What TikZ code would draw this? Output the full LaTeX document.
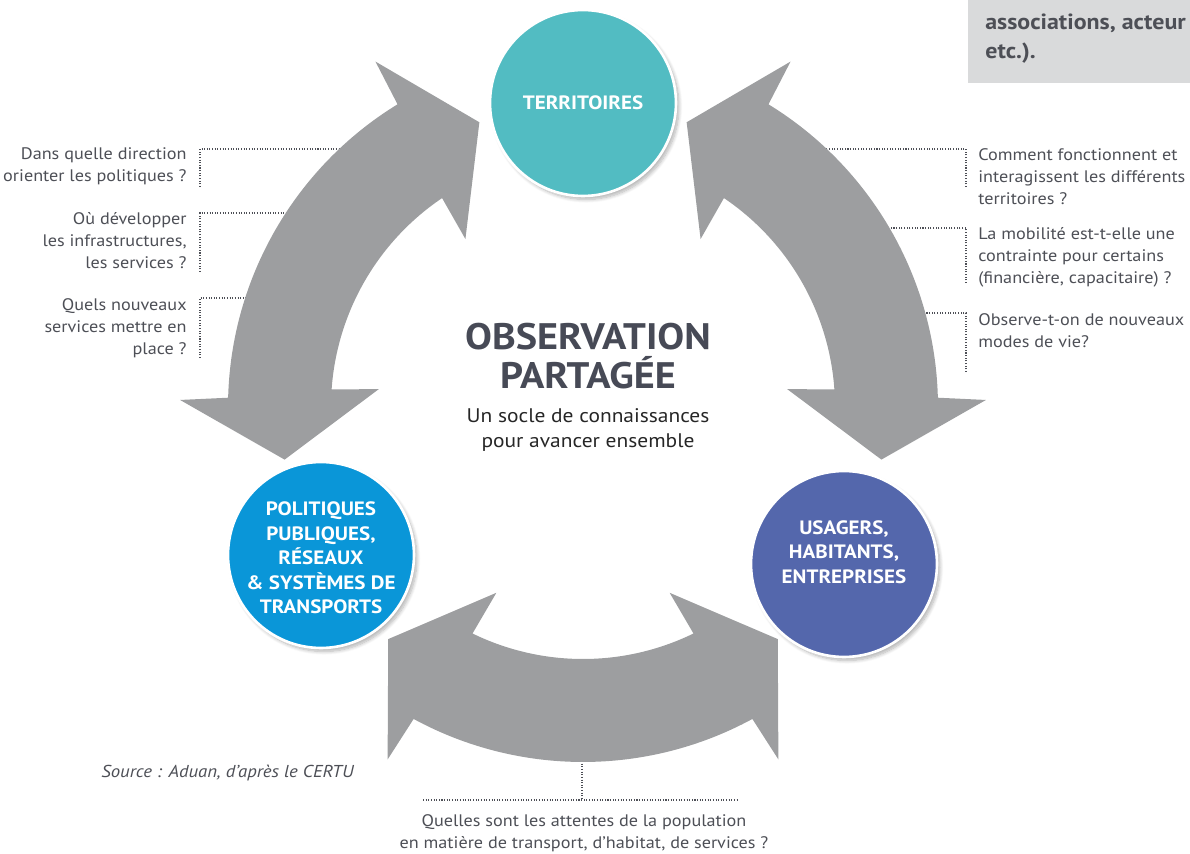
\documentclass[tikz,border=0pt]{standalone}
\usepackage{fontspec}
\setmainfont{PT Sans}[FakeStretch=1.09]
\usetikzlibrary{positioning,
		shadows.blur}
\definecolor{terrcolor}{HTML}{52BCC2}
\definecolor{polcolor}{HTML}{0A96D8}
\definecolor{usacolor}{HTML}{5467AC}
\definecolor{arrowgray}{HTML}{9D9EA0}
\definecolor{textgray}{HTML}{4D4F56}
\definecolor{titlegray}{HTML}{474A56}
\definecolor{boxgray}{HTML}{D9DADB}

\begin{document}
\begin{tikzpicture}[
		x=0.02cm, y=-0.02cm,
		pole/.style={circle, minimum size=3.72cm, draw=white, line width=1.5pt,
			blur shadow={shadow xshift=0.06cm, shadow yshift=-0.07cm, shadow opacity=30, shadow blur steps=8}},
		poletext/.style={text=white, align=center, font=\bfseries\fontsize{11}{14}\selectfont},
		question/.style={inner sep=0pt, text=textgray, font=\fontsize{9.5}{12.5}\selectfont},
		guide/.style={draw=textgray, line width=0.6pt, dash pattern=on 0.6pt off 0.9pt}
	]
	\useasboundingbox (0,0) rectangle (1190,854);

	% encadre en haut a droite
	\fill [boxgray] (968,0) rectangle (1190,83);
	\node [anchor=north west, inner sep=0pt, align=left, text=textgray, font=\bfseries\fontsize{12.5}{16}\selectfont] (boxtext) at (985,14) {associations, acteur\\etc.).};

	% questions
	\node [question, anchor=east, align=right] (dq1) at (187,166) {Dans quelle direction\\orienter les politiques ?};
	\node [question, anchor=east, align=right] (dq2) at (187,241) {Où développer\\les infrastructures,\\les services ?};
	\node [question, anchor=east, align=right] (dq3) at (187,328) {Quels nouveaux\\services mettre en\\place ?};
	\node [question, anchor=west, align=left] (cq1) at (978,177) {Comment fonctionnent et\\interagissent les différents\\territoires ?};
	\node [question, anchor=west, align=left] (cq2) at (978,257) {La mobilité est-t-elle une\\contrainte pour certains\\(financière, capacitaire) ?};
	\node [question, anchor=west, align=left] (cq3) at (978,331) {Observe-t-on de nouveaux\\modes de vie?};
	\node [question, align=center] (bq) at (584,833) {Quelles sont les attentes de la population\\en matière de transport, d’habitat, de services ?};
	\node [question, anchor=west, font=\itshape\fontsize{9.8}{12.5}\selectfont] (source) at (101,773) {Source : Aduan, d’après le CERTU};

	% reperes des pointilles
	\coordinate (dq1-a) at (200,187);
	\coordinate (dq1-b) at (200,149);
	\coordinate (dq1-c) at (380,149);
	\coordinate (dq2-a) at (200,272);
	\coordinate (dq2-b) at (200,213);
	\coordinate (dq2-c) at (330,213);
	\coordinate (dq3-a) at (200,358);
	\coordinate (dq3-b) at (200,298);
	\coordinate (dq3-c) at (290,298);
	\coordinate (cq1-a) at (966,187);
	\coordinate (cq1-b) at (966,149);
	\coordinate (cq1-c) at (790,149);
	\coordinate (cq2-a) at (966,283);
	\coordinate (cq2-b) at (966,228);
	\coordinate (cq2-c) at (840,228);
	\coordinate (cq3-a) at (966,372);
	\coordinate (cq3-b) at (966,313);
	\coordinate (cq3-c) at (880,313);
	\coordinate (bq-a) at (582,740);
	\coordinate (bq-b) at (582,800);
	\coordinate (bq-l) at (423,800);
	\coordinate (bq-r) at (737,800);
	\draw [guide] (dq1-a) -- (dq1-b) -- (dq1-c);
	\draw [guide] (dq2-a) -- (dq2-b) -- (dq2-c);
	\draw [guide] (dq3-a) -- (dq3-b) -- (dq3-c);
	\draw [guide] (cq1-a) -- (cq1-b) -- (cq1-c);
	\draw [guide] (cq2-a) -- (cq2-b) -- (cq2-c);
	\draw [guide] (cq3-a) -- (cq3-b) -- (cq3-c);
	\draw [guide] (bq-a) -- (bq-b);
	\draw [guide] (bq-l) -- (bq-r);

	% fleches doubles
	\foreach \a in {150,30,270}
		\fill [arrowgray, shift={(583,407)}, y=0.02cm]
			(\a+40:303) -- (\a+29:403) -- (\a+28.5:355)
			arc [start angle=\a+28.5, end angle=\a-28.5, radius=355]
			-- (\a-29:403) -- (\a-40:303) -- (\a-25:205) -- (\a-26:252)
			arc [start angle=\a-26, end angle=\a+26, radius=252]
			-- (\a+25:205) -- cycle;

	% poles
	\node [pole, fill=terrcolor] (territoires) at (583,103) {};
	\node [pole, fill=polcolor] (politiques) at (321,555) {};
	\node [pole, fill=usacolor] (usagers) at (844,564) {};
	\node [poletext] (territoires-txt) at (territoires) {TERRITOIRES};
	\node [poletext] (politiques-txt) at ([yshift=-0.06cm]politiques) {POLITIQUES\\PUBLIQUES,\\RÉSEAUX\\\& SYSTÈMES DE\\TRANSPORTS};
	\node [poletext] (usagers-txt) at ([yshift=0.24cm]usagers) {USAGERS,\\HABITANTS,\\ENTREPRISES};

	% centre
	\node [align=center, text=titlegray, font=\bfseries\fontsize{21}{22}\selectfont] (titre) at (588,356) {OBSERVATION\\PARTAGÉE};
	\node [below=4pt of titre, align=center, text=black!85, font=\fontsize{11.2}{14.5}\selectfont] (socle) {Un socle de connaissances\\pour avancer ensemble};
\end{tikzpicture}
\end{document}
